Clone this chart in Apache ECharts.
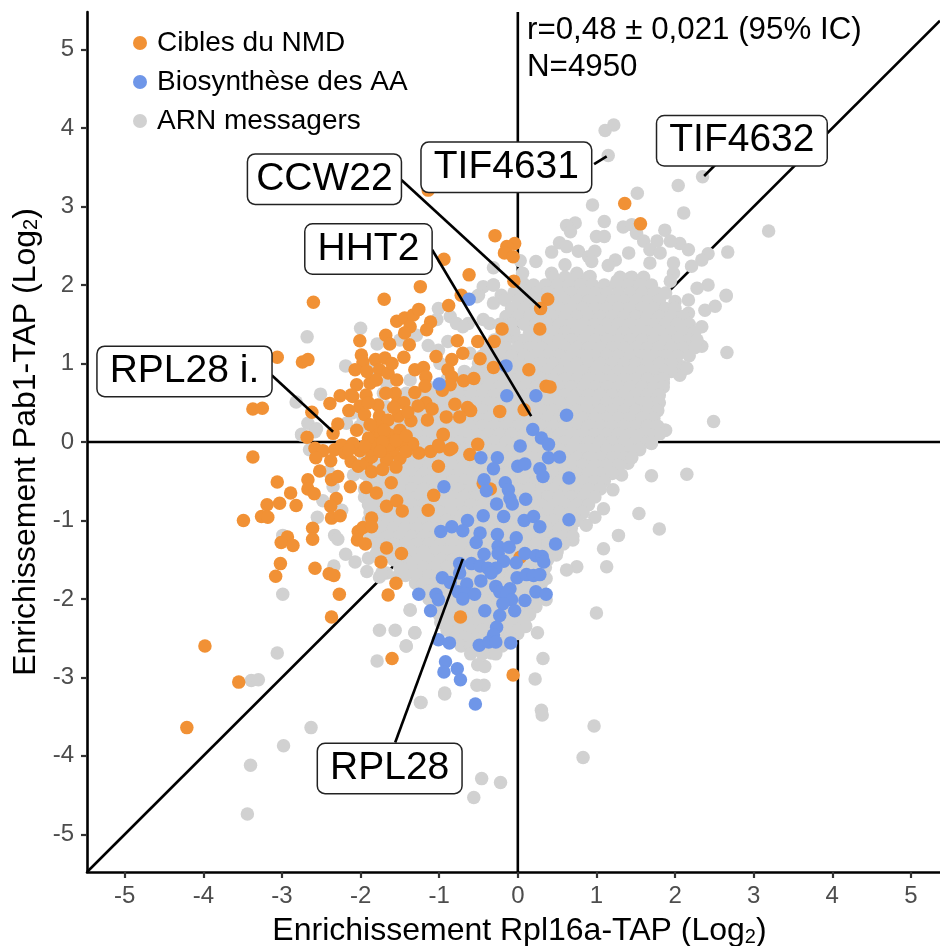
<!DOCTYPE html>
<html><head><meta charset="utf-8">
<style>html,body{margin:0;padding:0;background:#fff}#c{width:940px;height:946px}</style>
<script src="https://cdn.jsdelivr.net/npm/echarts@6/dist/echarts.min.js"></script>
</head><body><div id="c"></div>
<script>
const xTicks=[-5,-4,-3,-2,-1,0,1,2,3,4,5];
const yTicks=[-5,-4,-3,-2,-1,0,1,2,3,4,5];
const legendNames=['Cibles du NMD','Biosynthèse des AA','ARN messagers'];
const annotation='r=0,48 ± 0,021 (95% IC)\nN=4950';

const orange=[[-2.68,.06],[-3.37,-.19],[-3.06,-.51],[-2.89,-.65],[-3.19,-.80],[-3.03,-.78],[-2.82,-.81],[-3.26,-.95],[-3.18,-.96],[-3.49,-1.00],[-2.67,-.48],[-2.67,-.60],[-2.59,-.66],[-2.52,-.37],[-2.58,-.08],[-2.48,-.11],[-2.57,-.20],[-2.38,-.24],[-2.33,-.10],[-2.24,-.04],[-2.20,-.14],[-2.01,-.11],[-2.12,-.25],[-2.03,-.31],[-1.93,-.27],[-1.86,-.19],[-1.82,-.02],[-1.65,.07],[-1.80,.13],[-1.86,-.38],[-2.37,-.48],[-2.29,-.44],[-2.13,-.57],[-1.93,-.58],[-1.80,-.65],[-1.61,-.52],[-2.31,-.72],[-2.38,-.82],[-2.37,-.97],[-2.26,-.94],[-2.61,-1.10],[-2.61,-1.24],[-2.93,-1.21],[-3.01,-1.28],[-2.86,-1.32],[-2.03,-1.14],[-1.97,-1.09],[-1.86,-.97],[-1.86,-1.08],[-2.04,-1.25],[-1.94,-1.30],[-1.67,-1.35],[-1.48,-1.42],[-1.74,-1.53],[-3.02,-1.55],[-3.08,-1.71],[-2.58,-1.61],[-2.40,-1.68],[-2.34,-1.70],[-2.27,-1.94],[-1.55,-1.80],[-1.65,-1.95],[-1.67,-.82],[-1.54,-.75],[-1.47,-.88],[-1.14,-.87],[-1.07,-.68],[-1.01,-.31],[-1.61,-.14],[-1.50,-.21],[-1.48,-.04],[-1.34,-.03],[-1.26,-.14],[-1.11,-.12],[-1.00,-.06],[-.95,.09],[-.87,-.10],[-1.59,-.10],[-1.67,-.23],[-1.88,-.10],
[-1.24,1.98],[-1.70,1.82],[-1.54,1.54],[-1.44,1.58],[-1.33,1.62],[-1.26,1.69],[-1.37,1.47],[-1.44,1.39],[-1.11,1.53],[-1.16,1.43],[-.88,1.74],[-.72,1.87],[-.20,1.44],[-2.01,1.29],[-1.68,1.36],[-1.63,1.25],[-1.38,1.24],[-.77,1.29],[-.51,1.28],[-.30,1.28],[-1.99,1.11],[-1.97,1.02],[-1.81,1.05],[-1.69,1.07],[-1.45,1.08],[-1.04,1.09],[-.70,1.13],[-.84,1.05],[-.48,1.06],[-.31,.95],[-2.07,.92],[-1.76,.92],[-1.65,.88],[-1.54,.79],[-1.31,.92],[-1.20,.95],[-1.17,.83],[-.89,.92],[-.84,.83],[-1.18,.71],[-1.31,.63],[-2.05,.73],[-1.88,.75],[-1.80,.79],[-1.56,.62],[-1.53,.50],[-1.93,.60],[-2.10,.58],[-2.00,.46],[-1.78,.47],[-.86,.73],[-.69,.78],[-.56,.81],[-.96,.66],[-1.17,.50],[-1.27,.46],[-1.09,.42],[-1.15,.28],[-.80,.48],[-.64,.44],[-.60,.40],[-.74,.32],[-.91,.32],[-.23,.39],[.08,.41],[-1.76,.33],[-1.52,.33],[-1.65,.28],[-1.78,.20],[-1.63,.09],[-1.50,.15],[-1.36,.27],[-.95,.10],[-.51,-.03],[-1.46,-.02],[-1.63,-.04],[-1.84,-.02],[-1.34,-.02],[-1.01,-.04],[-.84,-.08],[-.61,-.16],
[-2.60,1.78],[-3.06,1.08],[-2.74,1.02],[-2.67,1.05],[-3.37,.42],[-3.25,.43],[-2.62,.38],[-2.39,.49],[-2.26,.59],[-2.12,.60],[-2.01,.45],[-2.29,.23],[-2.35,.11],
[-1.14,3.21],[-.29,2.63],[-.04,2.53],[-.14,2.49],[-.17,2.41],[-.06,2.36],[-.05,2.05],[-.94,2.33],[-.62,2.13],[.38,1.82],[.29,1.70],[.28,1.44],[.14,.92],[.36,.71],[.41,.70],[1.36,3.04],[1.56,2.78],
[-3.98,-2.60],[-3.55,-3.06],[-4.21,-3.64],[-2.37,-2.23],[-1.60,-2.76],[-.73,-2.23],[-.06,-2.97],[-.44,-.53],[-.35,-.60],[.03,-1.47],
[-1.95,.35],[-2.05,.15],[-1.9,.05],[-1.70,.15],[-1.72,.0],[-1.55,.02],[-1.42,.08],[-1.95,-.05],[-2.10,-.02],[-2.15,-.10],[-1.72,-.35],[-1.55,-.32],[-1.75,-.12],[-1.42,-.12],[-1.90,.50],[-1.68,.62],[-1.45,.50],[-1.40,.38],[-2.15,.40],[-1.88,.22],[-1.58,.44],[-1.92,.90],[-1.60,1.00]];

const blue=[[.62,.34],[.19,.16],[.30,.05],[.39,-.03],[.03,-.05],[-.47,-.20],[-.26,-.20],[-.31,-.34],[.39,-.20],[.53,-.19],[0,-.31],[.09,-.28],[.28,-.34],[.32,-.44],[.65,-.46],[-.43,-.48],[-.16,-.52],[-.40,-.62],[-.12,-.61],[-.94,-.57],[-.10,-.72],[.10,-.73],[-.27,-.79],[-.07,-.79],[-.44,-.94],[-.18,-.95],[-.64,-1.0],[-.84,-1.08],[-.70,-1.13],[-.98,-1.14],[.08,-1.0],[.20,-.95],[.28,-1.08],[.65,-.99],[-.48,-1.16],[-.26,-1.18],[-.02,-1.22],[-.53,-1.28],[.48,-1.30],[-.25,-1.33],[-.11,-1.34],[-.43,-1.43],[-.25,-1.42],[.09,-1.42],[.23,-1.45],[.31,-1.46],[.33,-1.53],[-.18,-1.52],[-.02,-1.54],[-.74,-1.55],[-.59,-1.55],[-.48,-1.58],[-.38,-1.61],[-.28,-1.61],[-.34,-1.67],[-.74,-1.67],[-.96,-1.73],[-.86,-1.79],[-.47,-1.77],[-.01,-1.73],[.11,-1.69],[.20,-1.70],[.28,-1.69],[-.65,-1.81],[-.28,-1.84],[-.10,-1.87],[-.76,-1.91],[-.23,-1.91],[-.14,-1.93],[-.67,-1.93],[-.55,-1.94],[-.70,-2.0],[.23,-1.91],[.36,-1.94],[-1.26,-1.94],[-1.04,-1.94],[-1.01,-2.01],[-.08,-2.01],[.09,-2.02],[-.19,-2.06],[-.04,-2.15],[-1.11,-2.15],[-.42,-2.15],[-.23,-2.21],[-.27,-2.36],[-.31,-2.46],[-1.01,-2.52],[-.87,-2.56],[-.49,-2.59],[-.37,-2.55],[-.28,-2.55],[-.09,-2.56],[-.92,-2.80],[-.94,-2.93],[-.77,-2.89],[-.73,-3.03],[-.54,-3.34],[-.15,.97],[-.62,1.82],[-1.0,.74],[-.14,.59],[.23,.59]];

const graySparse=[[-2.99,-1.94],[-3.06,-2.69],[-3.39,-3.04],[-3.30,-3.03],[-2.63,-3.64],[-2.98,-3.87],[-1.76,-2.40],[-1.56,-2.40],[-1.31,-2.43],[-1.42,-2.60],[-1.79,-2.79],[-1.23,-3.32],[-.93,-3.21],[-1.37,-2.14],[-2.55,-.96],[-2.33,-1.19],[-2.29,-1.24],[-2.34,-1.58],[-2.99,-1.19],[-2.48,-.75],[-1.92,-1.65],[-2.19,-1.43],[-2.07,-1.53],[-1.9,-1.48],[-1.76,-1.72],[-2.24,-.87],[-2.35,-.57],[-2.75,.09],[-2.58,.13],[-2.65,-.10],[-2.09,-.42],[-2.41,-.38],[-1.80,-1.42],[-1.67,-1.67],[-1.54,-1.72],[-1.73,-1.67],
[-2.68,1.34],[-2.0,1.45],[-2.19,.97],[-2.51,.61],[-2.82,.51],[-2.67,.24],[-2.56,.17],[-2.75,.10],[-2.18,.24],[-2.11,.37],[-1.97,.20],[-1.97,.32],[-1.92,.92],
[-1.79,1.25],[-1.14,1.23],[-.89,1.28],[-1.01,1.70],[-1.03,1.56],[-.86,1.60],[-.78,1.51],[-1.29,1.36],[-1.50,1.30],[-1.01,1.17],[-.44,1.98],[-.31,2.0],[-.21,1.87],[-.31,1.77],[-.5,1.87],[-.44,1.56],[-.63,1.51],[-.7,1.47],[-.36,1.51],[-.61,1.13],[-.99,1.0],[-1.37,.79],[-1.71,.62],[-1.67,.75],[-1.88,.92],[-1.67,.45],[-1.42,.62],[-1.37,.49],[-1.03,.62],[-.95,.49],[-1.29,.32],[-2.01,.2],
[1.22,4.04],[1.11,3.97],[1.15,3.65],[1.52,3.17],[.95,3.02],[2.04,3.27],[2.35,3.38],[2.11,2.92],[3.19,2.69],[1.10,2.81],[.73,2.79],[.62,2.76],[.67,2.68],[1.34,2.74],[1.45,2.77],[1.0,2.62],[1.1,2.62],[.53,2.54],[.43,2.42],[.62,2.49],[.77,2.43],[.98,2.43],[.90,2.36],[.94,2.3],[.23,2.30],[.03,2.31],[-.31,2.22],[.06,2.15],[.07,2.02],[1.41,2.41],[1.24,2.32],[1.15,2.25],[2.67,2.42],[2.42,2.40],[2.34,2.32],[1.87,2.70],[2.06,2.53],[2.17,2.45],[2.21,2.24],[1.51,2.66],[1.60,2.56],[1.68,2.45],[1.68,2.28],[1.81,2.41],[1.77,2.56],[1.94,2.56],[1.98,2.28],[1.98,2.15],[1.94,2.05],[2.65,1.86],[2.42,2.0],[2.28,1.96],[2.17,1.81],[2.51,1.73],[2.38,1.68],[2.17,1.64],[2.34,1.47],[2.66,1.14],[2.34,1.22],[2.17,1.13],[2.09,.96],[2.06,.86],[1.85,.75],[.43,2.15],[.60,2.26],[.75,2.15],[.92,2.11],[1.09,1.98],[1.26,2.05],[1.43,2.09],[1.60,2.02],[1.77,1.90],[2.0,1.79],[.37,1.98],[.60,1.98],[-.31,2.0],[-.16,1.81],[-.52,1.85],
[1.87,.15],[1.70,-.02],[1.47,-.06],[1.70,-.43],[2.15,-.41],[1.40,-.27],[1.32,-.42],[1.21,-.61],[1.09,-.85],[1.54,-.91],[1.80,-1.11],[1.28,-1.19],[.98,-.96],[.87,-1.06],[1.09,-1.36],[1.13,-1.59],[.75,-1.59],[.62,-1.63],[1.0,-2.18],[.70,-1.25],[.49,-1.44],[.36,-1.74],[.36,-2.01],[.25,-2.43],[.32,-2.76],[.22,-3.02],[-.43,-3.10],[-.93,-3.20],[-1.24,-3.32],[.30,-3.42],[.31,-3.48],[.10,-2.35],[0,-2.44],[-.34,-2.69],[-.42,-2.86],[-.51,-2.84],[-1.31,-2.43],[-1.42,-2.6],[-1.37,-2.14],
[2.49,.26],[2.65,1.87],[1.88,.15],[2.06,.85],[2.15,.94],[.97,-3.62],[.83,-4.02],[-.56,-4.53],[-.46,-4.29],[-.22,-4.34],[-3.44,-4.74],[-3.40,-4.12],[-.52,-3.10]];

const grayRows=[
[2.1,[.45,.6,.75,.9,1.3,1.45,1.6]],
[2.0,[.2,.35,.5,.65,.8,.95,1.1,1.25,1.4,1.55,1.7]],
[1.9,[-.05,.08,.23,.38,.53,.68,.83,.98,1.13,1.28,1.43,1.58,1.73,1.88]],
[1.8,[0,.15,.3,.45,.6,.75,.9,1.05,1.2,1.35,1.5,1.65,1.8]],
[1.7,[-.08,.08,.23,.38,.53,.68,.83,.98,1.13,1.28,1.43,1.58,1.73,1.88,2.0]],
[1.6,[-.15,0,.15,.3,.45,.6,.75,.9,1.05,1.2,1.35,1.5,1.65,1.8,1.95,2.1]],
[1.5,[-.23,-.08,.08,.23,.38,.53,.68,.83,.98,1.13,1.28,1.43,1.58,1.73,1.88,2.03,2.18]],
[1.4,[-.2,-.05,.15,.3,.45,.6,.75,.9,1.05,1.2,1.35,1.5,1.65,1.8,1.95,2.1,2.25]],
[1.3,[-.3,-.15,0,.08,.23,.38,.53,.68,.83,.98,1.13,1.28,1.43,1.58,1.73,1.88,2.03,2.18,2.28]],
[1.2,[-.4,-.3,-.15,0,.15,.3,.45,.6,.75,.9,1.05,1.2,1.35,1.5,1.65,1.8,1.95,2.1,2.25]],
[1.1,[-.45,-.38,-.23,-.08,.08,.23,.38,.53,.68,.83,.98,1.13,1.28,1.43,1.58,1.73,1.88,2.03,2.18]],
[1.0,[-.5,-.45,-.3,-.15,0,.15,.3,.45,.6,.75,.9,1.05,1.2,1.35,1.5,1.65,1.8,1.95]],
[.9,[-.68,-.53,-.38,-.23,-.08,.08,.23,.38,.53,.68,.83,.98,1.13,1.28,1.43,1.58,1.73,1.88,1.95]],
[.8,[-.9,-.75,-.6,-.45,-.3,-.15,0,.15,.3,.45,.6,.75,.9,1.05,1.2,1.35,1.5,1.65,1.8,1.85]],
[.7,[-1.13,-.98,-.83,-.68,-.53,-.38,-.23,-.08,.08,.23,.38,.53,.68,.83,.98,1.13,1.28,1.43,1.58,1.73,1.85]],
[.6,[-1.2,-1.05,-.9,-.75,-.6,-.45,-.3,-.15,0,.15,.3,.45,.6,.75,.9,1.05,1.2,1.35,1.5,1.65,1.8]],
[.5,[-1.28,-1.13,-.98,-.83,-.68,-.53,-.38,-.23,-.08,.08,.23,.38,.53,.68,.83,.98,1.13,1.28,1.43,1.58,1.73,1.8]],
[.4,[-1.35,-1.2,-1.05,-.9,-.75,-.6,-.45,-.3,-.15,0,.15,.3,.45,.6,.75,.9,1.05,1.2,1.35,1.5,1.65,1.78]],
[.3,[-1.43,-1.28,-1.13,-.98,-.83,-.68,-.53,-.38,-.23,-.08,.08,.23,.38,.53,.68,.83,.98,1.13,1.28,1.43,1.58,1.73]],
[.2,[-1.65,-1.5,-1.35,-1.2,-1.05,-.9,-.75,-.6,-.45,-.3,-.15,0,.15,.3,.45,.6,.75,.9,1.05,1.2,1.35,1.5,1.65,1.78]],
[.1,[-1.73,-1.58,-1.43,-1.28,-1.13,-.98,-.83,-.68,-.53,-.38,-.23,-.08,.08,.23,.38,.53,.68,.83,.98,1.13,1.28,1.43,1.58,1.73,1.8]],
[0,[-1.8,-1.65,-1.5,-1.35,-1.2,-1.05,-.9,-.75,-.6,-.45,-.3,-.15,0,.15,.3,.45,.6,.75,.9,1.05,1.2,1.35,1.5,1.65,1.7]],
[-.1,[-1.88,-1.73,-1.58,-1.43,-1.28,-1.13,-.98,-.83,-.68,-.53,-.38,-.23,-.08,.08,.23,.38,.53,.68,.83,.98,1.13,1.28,1.43,1.55]],
[-.2,[-1.95,-1.8,-1.65,-1.5,-1.35,-1.2,-1.05,-.9,-.75,-.6,-.45,-.3,-.15,0,.15,.3,.45,.6,.75,.9,1.05,1.2,1.35,1.45]],
[-.3,[-2.03,-1.88,-1.73,-1.58,-1.43,-1.28,-1.13,-.98,-.83,-.68,-.53,-.38,-.23,-.08,.08,.23,.38,.53,.68,.83,.98,1.13,1.28]],
[-.4,[-1.95,-1.8,-1.65,-1.5,-1.35,-1.2,-1.05,-.9,-.75,-.6,-.45,-.3,-.15,0,.15,.3,.45,.6,.75,.9,1.05,1.2]],
[-.5,[-1.88,-1.73,-1.58,-1.43,-1.28,-1.13,-.98,-.83,-.68,-.53,-.38,-.23,-.08,.08,.23,.38,.53,.68,.83,.98,1.1]],
[-.6,[-1.95,-1.8,-1.65,-1.5,-1.35,-1.2,-1.05,-.9,-.75,-.6,-.45,-.3,-.15,0,.15,.3,.45,.6,.75,.9,1.05]],
[-.7,[-1.95,-1.88,-1.73,-1.58,-1.43,-1.28,-1.13,-.98,-.83,-.68,-.53,-.38,-.23,-.08,.08,.23,.38,.53,.68,.83,.98]],
[-.8,[-1.9,-1.8,-1.65,-1.5,-1.35,-1.2,-1.05,-.9,-.75,-.6,-.45,-.3,-.15,0,.15,.3,.45,.6,.75,.9]],
[-.9,[-1.88,-1.73,-1.58,-1.43,-1.28,-1.13,-.98,-.83,-.68,-.53,-.38,-.23,-.08,.08,.23,.38,.53,.68,.83]],
[-1.0,[-1.9,-1.8,-1.65,-1.5,-1.35,-1.2,-1.05,-.9,-.75,-.6,-.45,-.3,-.15,0,.15,.3,.45,.6,.75]],
[-1.1,[-1.88,-1.73,-1.58,-1.43,-1.28,-1.13,-.98,-.83,-.68,-.53,-.38,-.23,-.08,.08,.23,.38,.53,.68]],
[-1.2,[-1.88,-1.8,-1.65,-1.5,-1.35,-1.2,-1.05,-.9,-.75,-.6,-.45,-.3,-.15,0,.15,.3,.45,.6,.7]],
[-1.3,[-1.8,-1.73,-1.58,-1.43,-1.28,-1.13,-.98,-.83,-.68,-.53,-.38,-.23,-.08,.08,.23,.38,.53,.58]],
[-1.4,[-1.75,-1.65,-1.5,-1.35,-1.2,-1.05,-.9,-.75,-.6,-.45,-.3,-.15,0,.15,.3,.45,.5]],
[-1.5,[-1.58,-1.43,-1.28,-1.13,-.98,-.83,-.68,-.53,-.38,-.23,-.08,.08,.23,.38]],
[-1.6,[-1.5,-1.35,-1.2,-1.05,-.9,-.75,-.6,-.45,-.3,-.15,0,.15,.3,.35]],
[-1.7,[-1.43,-1.28,-1.13,-.98,-.83,-.68,-.53,-.38,-.23,-.08,.08,.23,.33]],
[-1.8,[-1.3,-1.2,-1.05,-.9,-.75,-.6,-.45,-.3,-.15,0,.15,.3]],
[-1.9,[-1.2,-1.13,-.98,-.83,-.68,-.53,-.38,-.23,-.08,.08,.23,.3]],
[-2.0,[-1.13,-1.05,-.9,-.75,-.6,-.45,-.3,-.15,0,.15,.28]],
[-2.1,[-1.05,-.98,-.83,-.68,-.53,-.38,-.23,-.08,.08,.23]],
[-2.2,[-1.0,-.9,-.75,-.6,-.45,-.3,-.15,0,.15]],
[-2.3,[-.98,-.83,-.68,-.53,-.38,-.23,-.08,.08]],
[-2.4,[-.9,-.75,-.6,-.45,-.3,-.15,0]],
[-2.5,[-.8,-.68,-.53,-.38,-.23,-.1]],
[-2.6,[-.72,-.6,-.45,-.3,-.2]],
[-2.7,[-.6,-.45,-.28]]];

const gray=graySparse.concat(grayRows.flatMap(r=>r[1].map(x=>[x,r[0]])));

const diagonal=[[-5.48,-5.48],[5.37,5.37]];
const vertical=[[0,-5.48],[0,5.48]];
const horizontal=[[-5.48,0],[5.37,0]];
const callouts=[
 {name:'TIF4631',at:[-.146,3.50],from:[.97,3.54],to:[1.13,3.64]},
 {name:'TIF4632',at:[2.85,3.84],from:[2.51,3.53],to:[2.37,3.39]},
 {name:'CCW22',at:[-2.46,3.35],from:[-1.48,3.34],to:[.29,1.71]},
 {name:'HHT2',at:[-1.90,2.46],from:[-1.09,2.45],to:[.17,.33]},
 {name:'RPL28 i.',at:[-4.24,.90],from:[-3.13,.85],to:[-2.35,.13]},
 {name:'RPL28',at:[-1.63,-4.16],from:[-1.56,-3.83],to:[-.70,-1.49]}
];

const FONT='"Liberation Sans", Arial, sans-serif';
const ruleLine=(data,z)=>({type:'line',data,symbol:'none',silent:true,z,lineStyle:{color:'#000',width:2.6},animation:false});
const dots=(name,data,color,z)=>({type:'scatter',name,data,symbol:'circle',symbolSize:13.5,z,itemStyle:{color,opacity:1},animation:false,silent:true});
const axisCommon=(ticks,margin,padding)=>({
  type:'value',splitLine:{show:false},
  axisLine:{show:true,onZero:false,lineStyle:{color:'#000',width:2.6}},
  axisTick:{show:true,length:6,customValues:ticks,lineStyle:{color:'#333',width:2.2}},
  axisLabel:{show:true,customValues:ticks,color:'#4D4D4D',fontSize:24,fontFamily:FONT,margin,padding,showMinLabel:true,showMaxLabel:true}
});
const rich={a:{fontSize:32,fontFamily:FONT,color:'#000'},s:{fontSize:20,fontFamily:FONT,color:'#000',verticalAlign:'bottom',lineHeight:30}};
const chart=echarts.init(document.getElementById('c'),null,{renderer:'canvas'});
chart.setOption({
  backgroundColor:'#fff',animation:false,
  title:{text:annotation,left:527,top:12,padding:0,textStyle:{fontFamily:FONT,fontSize:31.3,fontWeight:'normal',color:'#000',lineHeight:37}},
  grid:{left:87,right:0,top:12,bottom:74,containLabel:false,outerBoundsMode:'none'},
  legend:{data:legendNames,orient:'vertical',left:128,top:24,itemWidth:14,itemHeight:14,itemGap:11,icon:'circle',selectedMode:false,
    textStyle:{fontFamily:FONT,fontSize:28,color:'#000',padding:[0,0,0,5]}},
  xAxis:Object.assign(axisCommon(xTicks,12,[0,0,0,0]),{min:-5.48,max:5.37,name:'{a|Enrichissement Rpl16a-TAP (Log}{s|2}{a|)}',nameLocation:'middle',nameGap:43,nameTextStyle:{rich,padding:[0,0,0,12]}}),
  yAxis:Object.assign(axisCommon(yTicks,13,[3,0,0,0]),{min:-5.48,max:5.48,name:'{a|Enrichissement Pab1-TAP (Log}{s|2}{a|)}',nameLocation:'middle',nameGap:45,nameTextStyle:{rich}}),
  series:[
    ruleLine(diagonal,1),ruleLine(vertical,1),ruleLine(horizontal,1),
    dots(legendNames[2],gray,'#D1D1D1',2),
    dots(legendNames[0],orange,'#F19135',3),
    dots(legendNames[1],blue,'#6F96E8',4),
    ...callouts.map(c=>ruleLine([c.from,c.to],5)),
    {type:'scatter',data:callouts.map(c=>({name:c.name,value:c.at,label:c.name==='CCW22'?{padding:[5,8,5,8]}:undefined})),symbolSize:0,z:6,silent:true,animation:false,itemStyle:{opacity:1},
     label:{show:true,position:'inside',formatter:p=>p.name,color:'#000',opacity:1,fontFamily:FONT,fontSize:39,lineHeight:39,
       backgroundColor:'#fff',borderColor:'#222',borderWidth:1.5,borderRadius:7,padding:[5,12,5,12]}}
  ]
});
</script></body></html>
